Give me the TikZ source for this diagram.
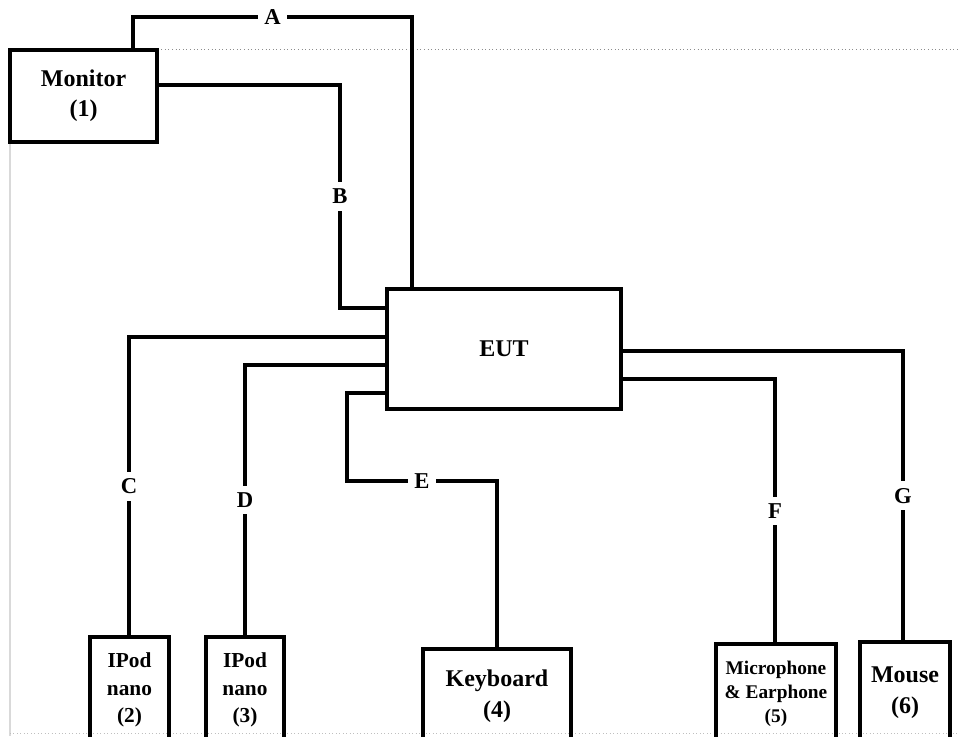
\documentclass[tikz,border=0pt]{standalone}
\usepackage{fontspec}
\setmainfont{Liberation Serif}
\usepackage{tikz}
\usetikzlibrary{calc}
\newcommand{\pxu}{0.75pt}

\begin{document}
\begin{tikzpicture}[x=0.75pt, y=-0.75pt,
    unit/.style={draw, line width=2.3pt, rectangle, inner sep=0pt, align=center, font=\bfseries},
    cable/.style={line width=2.3pt},
    tag/.style={fill=white, inner sep=5pt, font=\fontsize{17}{20}\selectfont\bfseries}]
    \useasboundingbox (0,0) rectangle (960,736);

    % page edges
    \draw[gray!90, line width=0.7pt, dotted] (10,49) -- (960,49);
    \draw[gray!30, line width=0.8pt] (10,142) -- (10,736);
    \draw[gray!50, line width=0.6pt, dotted] (10,733) -- (960,733);

    \node[unit, minimum width=147*\pxu, minimum height=92*\pxu,
      font=\fontsize{18}{22.5}\selectfont\bfseries] (mon) at (83.5,96) {Monitor\\(1)};
    \node[unit, minimum width=234*\pxu, minimum height=120*\pxu,
      font=\fontsize{18}{22}\selectfont\bfseries] (eut) at (504,349) {EUT};
    \node[unit, minimum width=79*\pxu, minimum height=106*\pxu,
      font=\fontsize{16}{20.5}\selectfont\bfseries] (ipodA) at (129.5,690) {IPod\\nano\\(2)};
    \node[unit, minimum width=78*\pxu, minimum height=106*\pxu,
      font=\fontsize{16}{20.5}\selectfont\bfseries] (ipodB) at (245,690) {IPod\\nano\\(3)};
    \node[unit, minimum width=148*\pxu, minimum height=94*\pxu,
      font=\fontsize{18}{23}\selectfont\bfseries] (kbd) at (497,696) {Keyboard\\(4)};
    \node[unit, minimum width=120*\pxu, minimum height=100*\pxu,
      font=\fontsize{14.5}{18}\selectfont\bfseries] (mic) at (776,694) {Microphone\\\& Earphone\\(5)};
    \node[unit, minimum width=90*\pxu, minimum height=102*\pxu,
      font=\fontsize{18}{23}\selectfont\bfseries] (mouse) at (905,693) {Mouse\\(6)};

    \coordinate (a1) at (133,17);
    \coordinate (a2) at (412,17);
    \coordinate (b1) at (340,85);
    \coordinate (b2) at (340,308);
    \coordinate (c1) at (129,337);
    \coordinate (d1) at (245,365);
    \coordinate (e1) at (347,393);
    \coordinate (e2) at (347,481);
    \coordinate (e3) at (497,481);
    \coordinate (f1) at (775,379);
    \coordinate (g1) at (903,351);

    \draw[cable] (mon.north -| a1) -- (a1) -- node[tag] (labA) {A} (a2) -- (a2 |- eut.north);
    \draw[cable] (b1 -| mon.east) -- (b1) -- node[tag] (labB) {B} (b2) -- (b2 -| eut.west);
    \draw[cable] (c1 -| eut.west) -- (c1) -- node[tag] (labC) {C} (c1 |- ipodA.north);
    \draw[cable] (d1 -| eut.west) -- (d1) -- node[tag] (labD) {D} (d1 |- ipodB.north);
    \draw[cable] (e1 -| eut.west) -- (e1) -- (e2) -- node[tag] (labE) {E} (e3) -- (e3 |- kbd.north);
    \draw[cable] (f1 -| eut.east) -- (f1) -- node[tag] (labF) {F} (f1 |- mic.north);
    \draw[cable] (g1 -| eut.east) -- (g1) -- node[tag] (labG) {G} (g1 |- mouse.north);
  \end{tikzpicture}
\end{document}
